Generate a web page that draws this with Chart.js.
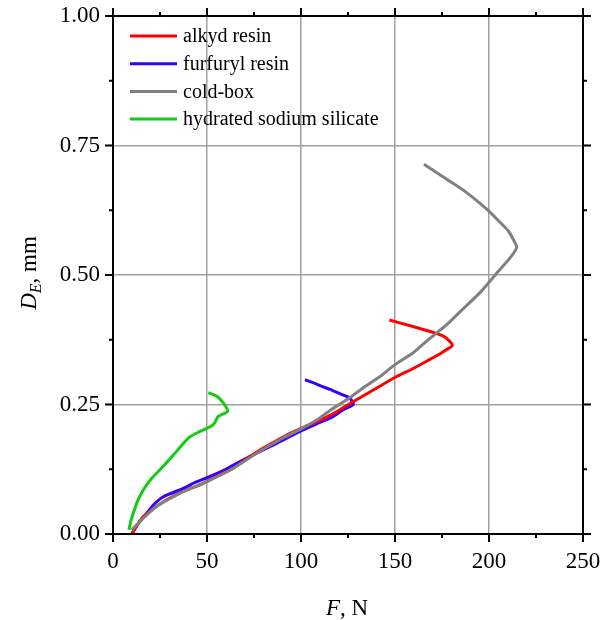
<!DOCTYPE html>
<html>
<head>
<meta charset="utf-8">
<script src="https://cdn.jsdelivr.net/npm/chart.js@4.4.1/dist/chart.umd.min.js"></script>
<style>
  html, body { margin: 0; padding: 0; background: #fff; }
  #wrap { width: 609px; height: 620px; }
</style>
</head>
<body>
<div id="wrap"><canvas id="chart"></canvas></div>
<script>
// force F (N) vs. displacement D_E (mm) for each binder
const alkydF = [10, 13, 16, 22, 28.5, 37, 46.3, 55, 64, 71, 78.2, 85, 92.4, 100, 108.4, 117, 125.2, 138, 150.9, 160, 168.6, 174, 177.5, 180.5, 178.5, 175.7, 170.4, 160, 147];
const alkydD = [0.0, 0.018, 0.033, 0.05, 0.066, 0.082, 0.095, 0.111, 0.127, 0.145, 0.162, 0.176, 0.191, 0.204, 0.217, 0.232, 0.25, 0.277, 0.304, 0.32, 0.337, 0.348, 0.356, 0.364, 0.374, 0.382, 0.389, 0.4, 0.413];

const furfurylF = [10, 13, 17.9, 22, 26.8, 37.4, 44, 51.6, 60, 67.6, 77, 87.1, 99.5, 108, 117.2, 122.5, 127.8, 126, 123.4, 115.4, 108, 102.1];
const furfurylD = [0, 0.018, 0.04, 0.058, 0.072, 0.088, 0.1, 0.111, 0.125, 0.14, 0.157, 0.175, 0.198, 0.212, 0.227, 0.24, 0.25, 0.262, 0.267, 0.279, 0.29, 0.298];

const coldBoxF = [10, 16, 23, 30, 37.4, 49.8, 64, 76.4, 88.8, 99.5, 108.4, 116, 124.3, 133, 142, 150, 159.7, 168, 177.5, 186, 195.2, 205.9, 211, 214.7, 213, 210.3, 205, 198.8, 188.1, 177.5, 165.4];
const coldBoxD = [0.008, 0.03, 0.053, 0.068, 0.082, 0.101, 0.127, 0.156, 0.182, 0.202, 0.22, 0.24, 0.259, 0.282, 0.304, 0.327, 0.35, 0.376, 0.404, 0.434, 0.466, 0.511, 0.532, 0.553, 0.568, 0.585, 0.605, 0.627, 0.659, 0.685, 0.714];

const silicateF = [8.5, 9.5, 10.8, 13, 16.1, 20, 25, 32, 39.2, 42, 46.3, 53.4, 56, 61, 58.7, 55.2, 50.7];
const silicateD = [0.008, 0.025, 0.04, 0.063, 0.085, 0.105, 0.124, 0.152, 0.182, 0.19, 0.198, 0.211, 0.227, 0.237, 0.253, 0.266, 0.273];

const seriesNames = ["alkyd resin", "furfuryl resin", "cold-box", "hydrated sodium silicate"];
const seriesColors = ["#ff0000", "#3300ff", "#808080", "#11cc11"];

const xTicks = [0, 50, 100, 150, 200, 250];
const yTicks = [0, 0.25, 0.5, 0.75, 1.0];

const SERIF = "'Liberation Serif', 'Times New Roman', serif";

function toPoints(xs, ys) {
  return xs.map((x, i) => ({ x: x, y: ys[i] }));
}

const seriesData = [
  toPoints(alkydF, alkydD),
  toPoints(furfurylF, furfurylD),
  toPoints(coldBoxF, coldBoxD),
  toPoints(silicateF, silicateD)
];
// cold-box sits on top, then alkyd, furfuryl, silicate
const drawOrder = [1, 2, 0, 3];

// frame, minor ticks, legend and axis titles
const decorations = {
  id: "decorations",
  afterDraw(chart) {
    const ctx = chart.ctx;
    const a = chart.chartArea;
    const xs = chart.scales.x;
    const ys = chart.scales.y;
    ctx.save();

    // box
    ctx.strokeStyle = "#000";
    ctx.lineWidth = 2;
    ctx.strokeRect(a.left, a.top, a.right - a.left, a.bottom - a.top);

    // outward ticks on all four sides
    ctx.lineWidth = 2;
    ctx.beginPath();
    for (let v = 0; v <= 250; v += 25) {
      const px = xs.getPixelForValue(v);
      const len = v % 50 === 0 ? 8 : 4;
      ctx.moveTo(px, a.bottom); ctx.lineTo(px, a.bottom + len);
      ctx.moveTo(px, a.top); ctx.lineTo(px, a.top - len);
    }
    for (let k = 0; k <= 8; k++) {
      const py = ys.getPixelForValue(k * 0.125);
      const len = k % 2 === 0 ? 8 : 4;
      ctx.moveTo(a.left, py); ctx.lineTo(a.left - len, py);
      ctx.moveTo(a.right, py); ctx.lineTo(a.right + len, py);
    }
    ctx.stroke();

    // legend
    ctx.font = "20px " + SERIF;
    ctx.textBaseline = "middle";
    ctx.textAlign = "left";
    seriesNames.forEach((name, i) => {
      const y = 36 + i * 27.7;
      ctx.strokeStyle = seriesColors[i];
      ctx.lineWidth = 3;
      ctx.beginPath();
      ctx.moveTo(130, y);
      ctx.lineTo(177, y);
      ctx.stroke();
      ctx.fillStyle = "#000";
      ctx.fillText(name, 183, y + 1);
    });

    // x title: F, N
    ctx.fillStyle = "#000";
    ctx.textBaseline = "alphabetic";
    ctx.font = "italic 23px " + SERIF;
    const fW = ctx.measureText("F").width;
    ctx.font = "23px " + SERIF;
    const restW = ctx.measureText(", N").width;
    let x0 = 347 - (fW + restW) / 2;
    ctx.font = "italic 23px " + SERIF;
    ctx.fillText("F", x0, 615);
    ctx.font = "23px " + SERIF;
    ctx.fillText(", N", x0 + fW, 615);

    // y title: D_E, mm
    ctx.translate(36, 273);
    ctx.rotate(-Math.PI / 2);
    ctx.font = "italic 23px " + SERIF;
    const dW = ctx.measureText("D").width;
    ctx.font = "italic 16px " + SERIF;
    const eW = ctx.measureText("E").width;
    ctx.font = "23px " + SERIF;
    const mmW = ctx.measureText(", mm").width;
    let s = -(dW + eW + mmW) / 2;
    ctx.font = "italic 23px " + SERIF;
    ctx.fillText("D", s, 0);
    ctx.font = "italic 16px " + SERIF;
    ctx.fillText("E", s + dW, 5);
    ctx.font = "23px " + SERIF;
    ctx.fillText(", mm", s + dW + eW, 0);

    ctx.restore();
  }
};

new Chart(document.getElementById("chart"), {
  type: "scatter",
  data: {
    datasets: seriesNames.map((name, i) => ({
      label: name,
      data: seriesData[i],
      showLine: true,
      borderColor: seriesColors[i],
      backgroundColor: seriesColors[i],
      borderWidth: 3,
      pointRadius: 0,
      tension: 0.25,
      order: drawOrder[i]
    }))
  },
  options: {
    responsive: true,
    maintainAspectRatio: false,
    animation: false,
    layout: { padding: { top: 16, right: 26, left: 0, bottom: 0 } },
    plugins: { legend: { display: false }, tooltip: { enabled: false } },
    scales: {
      x: {
        type: "linear",
        min: 0,
        max: 250,
        afterFit(scale) {
          scale.height = 86;
          scale.paddingLeft = 0;
          scale.paddingRight = 0;
        },
        afterBuildTicks(scale) { scale.ticks = xTicks.map(v => ({ value: v })); },
        ticks: {
          color: "#000",
          padding: 14,
          font: { family: SERIF, size: 23 },
          callback: v => String(v)
        },
        grid: { color: "#a0a0a0", lineWidth: 1.5, drawTicks: false },
        border: { display: false }
      },
      y: {
        type: "linear",
        min: 0,
        max: 1,
        afterFit(scale) {
          scale.width = 113;
          scale.paddingTop = 0;
          scale.paddingBottom = 0;
        },
        afterBuildTicks(scale) { scale.ticks = yTicks.map(v => ({ value: v })); },
        ticks: {
          color: "#000",
          padding: 13,
          font: { family: SERIF, size: 23 },
          callback: v => Number(v).toFixed(2)
        },
        grid: { color: "#a0a0a0", lineWidth: 1.5, drawTicks: false },
        border: { display: false }
      }
    }
  },
  plugins: [decorations]
});
</script>
</body>
</html>
